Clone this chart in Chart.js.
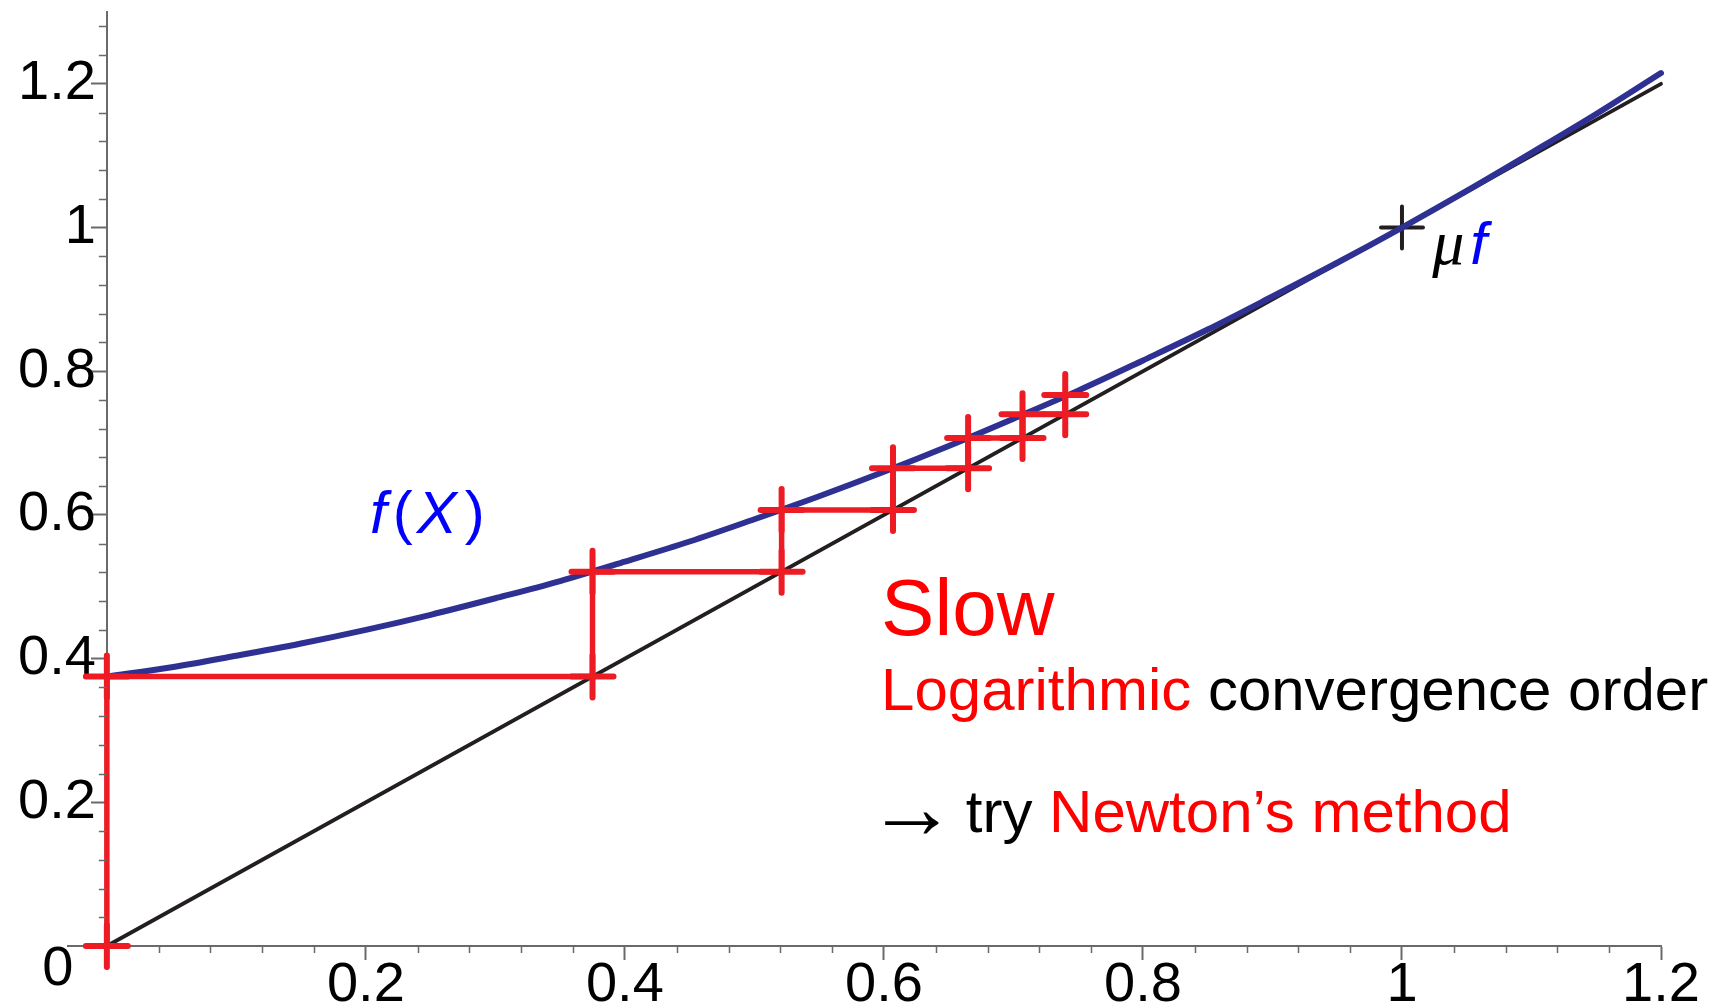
<!DOCTYPE html>
<html>
<head>
<meta charset="utf-8">
<title>Fixed-point iteration f(X)</title>
<script src="https://cdn.jsdelivr.net/npm/chart.js@4.4.1/dist/chart.umd.min.js"></script>
<style>
  html, body { margin: 0; padding: 0; background: #fff; }
  #wrap { width: 1727px; height: 1003px; position: relative; }
</style>
</head>
<body>
<div id="wrap"><canvas id="cobweb"></canvas></div>
<script>
// f(X)
const curveX = [0, 0.05, 0.1, 0.15, 0.2, 0.25, 0.3, 0.35, 0.4, 0.45, 0.5, 0.55, 0.6,
                0.65, 0.7, 0.75, 0.8, 0.85, 0.9, 0.95, 1, 1.05, 1.1, 1.15, 1.2];
const curveY = [0.375, 0.388, 0.404, 0.421, 0.440, 0.461, 0.484, 0.508, 0.535, 0.563, 0.594, 0.626, 0.660,
                0.696, 0.734, 0.773, 0.815, 0.858, 0.904, 0.951, 1.000, 1.051, 1.104, 1.158, 1.215];

// iterates X0, X1 = f(X0), X2 = f(X1), ...
const iterates = [0, 0.375, 0.521, 0.607, 0.665, 0.707, 0.740, 0.767];

// diagonal y = x
const diagonalX = [0, 1.2];

// fixed point
const fixedX = [1];
const fixedY = [1];

const xTickValues = [0.2, 0.4, 0.6, 0.8, 1, 1.2];
const xTickLabels = ['0.2', '0.4', '0.6', '0.8', '1', '1.2'];
const yTickValues = [0.2, 0.4, 0.6, 0.8, 1, 1.2];
const yTickLabels = ['0.2', '0.4', '0.6', '0.8', '1', '1.2'];
const originLabel = '0';
const MINOR_STEP = 0.04;

const SANS = '"Liberation Sans", Arial, Helvetica, sans-serif';
const SERIF = '"Liberation Serif", "Times New Roman", serif';
const RED = '#ed1c24';
const NAVY = '#2e3192';
const INK = '#231f20';
const AXIS = '#6a6a6a';
const TXT_RED = '#ff0000';
const TXT_BLUE = '#0000ff';

// staircase: (x0,x0) -> (x0,x1) -> (x1,x1) -> (x1,x2) ... ending on the curve
const cobweb = [];
for (let i = 0; i + 1 < iterates.length; i++) {
  cobweb.push({ x: iterates[i], y: iterates[i] });
  cobweb.push({ x: iterates[i], y: iterates[i + 1] });
}

// draws a list of text runs left to right on one baseline
function drawRuns(ctx, x, y, runs) {
  runs.forEach(r => {
    x += r.gap || 0;
    ctx.font = r.font;
    ctx.fillStyle = r.color;
    ctx.fillText(r.text, x, y + (r.dy || 0));
    x += ctx.measureText(r.text).width;
  });
}

const roundCaps = {
  id: 'roundCaps',
  beforeDatasetsDraw(chart) { chart.ctx.save(); chart.ctx.lineCap = 'round'; },
  afterDatasetsDraw(chart) { chart.ctx.restore(); }
};

// y labels of an axis placed at x = 0 sit right on the line; move them left of the ticks
const yLabelGap = {
  id: 'yLabelGap',
  beforeDraw(chart) {
    const items = chart.scales.y.getLabelItems();
    items.forEach(it => {
      if (it._moved) return;
      it.options.translation[0] -= 11;
      it._moved = true;
    });
  }
};

const decorations = {
  id: 'decorations',
  afterDraw(chart) {
    const { ctx, scales: { x, y } } = chart;
    const x0 = x.getPixelForValue(0);
    const y0 = y.getPixelForValue(0);
    ctx.save();

    // minor ticks
    ctx.strokeStyle = AXIS;
    ctx.lineWidth = 1.5;
    ctx.beginPath();
    for (let k = 1; k * MINOR_STEP < x.max + 1e-9; k++) {
      if (k % 5 === 0) continue;
      const px = Math.round(x.getPixelForValue(k * MINOR_STEP)) + 0.5;
      ctx.moveTo(px, y0); ctx.lineTo(px, y0 + 7);
    }
    for (let k = 1; k * MINOR_STEP < y.max; k++) {
      if (k % 5 === 0) continue;
      const py = Math.round(y.getPixelForValue(k * MINOR_STEP)) + 0.5;
      ctx.moveTo(x0, py); ctx.lineTo(x0 - 8, py);
    }
    ctx.stroke();

    // origin label
    ctx.font = '56px ' + SANS;
    ctx.fillStyle = '#000';
    ctx.textAlign = 'center';
    ctx.textBaseline = 'alphabetic';
    ctx.fillText(originLabel, x0 - 49, y0 + 39);
    ctx.textAlign = 'left';

    // curve name
    const italic = 'italic 60px ' + SANS;
    const upright = '60px ' + SANS;
    drawRuns(ctx, x.getPixelForValue(0.2032), y.getPixelForValue(0.5745), [
      { text: 'f', font: italic, color: TXT_BLUE },
      { text: '(', font: upright, color: TXT_BLUE, gap: 6 },
      { text: 'X', font: italic, color: TXT_BLUE, gap: 4 },
      { text: ')', font: upright, color: TXT_BLUE, gap: 8 }
    ]);

    // fixed point name
    drawRuns(ctx, x.getPixelForValue(1.0233), y.getPixelForValue(0.9496), [
      { text: 'μ', font: 'italic 64px ' + SERIF, color: '#000' },
      { text: 'f', font: italic, color: TXT_BLUE, gap: 6 }
    ]);

    // notes
    const nx = x.getPixelForValue(0.5978);
    drawRuns(ctx, nx, y.getPixelForValue(0.4328), [
      { text: 'Slow', font: '80px ' + SANS, color: TXT_RED }
    ]);
    drawRuns(ctx, nx, y.getPixelForValue(0.3283), [
      { text: 'Logarithmic', font: upright, color: TXT_RED },
      { text: ' convergence order', font: upright, color: '#000' }
    ]);
    drawRuns(ctx, nx, y.getPixelForValue(0.1588), [
      { text: '→', font: '90px ' + SERIF, color: '#000', dy: 6, gap: -14 },
      { text: ' try ', font: upright, color: '#000', gap: -8 },
      { text: 'Newton’s method', font: upright, color: TXT_RED }
    ]);

    ctx.restore();
  }
};

const tickFont = { family: SANS, size: 56, lineHeight: 1.2 };

new Chart(document.getElementById('cobweb'), {
  type: 'scatter',
  data: {
    datasets: [
      {
        label: 'iterates',
        data: cobweb,
        showLine: true,
        borderColor: RED,
        borderWidth: 5.5,
        borderCapStyle: 'round',
        borderJoinStyle: 'round',
        pointStyle: 'cross',
        pointRadius: 21,
        pointBorderWidth: 6,
        pointBorderColor: RED,
        pointBackgroundColor: RED,
        clip: false,
        order: 0
      },
      {
        label: 'f(X)',
        data: curveX.map((v, i) => ({ x: v, y: curveY[i] })),
        showLine: true,
        borderColor: NAVY,
        borderWidth: 6,
        borderCapStyle: 'round',
        cubicInterpolationMode: 'monotone',
        pointRadius: 0,
        clip: false,
        order: 1
      },
      {
        label: 'fixed point',
        data: fixedX.map((v, i) => ({ x: v, y: fixedY[i] })),
        pointStyle: 'cross',
        pointRadius: 21,
        pointBorderWidth: 4,
        pointBorderColor: INK,
        clip: false,
        order: 2
      },
      {
        label: 'y = x',
        data: diagonalX.map(v => ({ x: v, y: v })),
        showLine: true,
        borderColor: INK,
        borderWidth: 3.8,
        borderCapStyle: 'round',
        pointRadius: 0,
        clip: false,
        order: 3
      }
    ]
  },
  options: {
    responsive: true,
    maintainAspectRatio: false,
    devicePixelRatio: 1,
    animation: false,
    events: [],
    layout: { autoPadding: false, padding: { left: 68, right: 66, top: 12, bottom: 34 } },
    plugins: { legend: { display: false }, tooltip: { enabled: false } },
    scales: {
      x: {
        type: 'linear',
        min: -0.03,
        max: 1.2,
        position: { y: 0 },
        afterBuildTicks: s => { s.ticks = xTickValues.map(v => ({ value: v })); },
        afterFit: s => { s.paddingLeft = 0; s.paddingRight = 0; },
        border: { color: AXIS, width: 2 },
        grid: { drawOnChartArea: false, drawTicks: true, tickLength: 13, tickColor: AXIS, tickWidth: 2 },
        ticks: {
          autoSkip: false, maxRotation: 0, padding: -7,
          color: '#000', font: tickFont,
          callback: (v, i) => xTickLabels[i]
        }
      },
      y: {
        type: 'linear',
        min: -0.032,
        max: 1.3,
        position: { x: 0 },
        z: 1,
        afterBuildTicks: s => { s.ticks = yTickValues.map(v => ({ value: v })); },
        afterFit: s => { s.paddingTop = 0; s.paddingBottom = 0; },
        border: { color: AXIS, width: 2 },
        grid: { drawOnChartArea: false, drawTicks: true, tickLength: 15, tickColor: AXIS, tickWidth: 2 },
        ticks: {
          autoSkip: false, padding: 0,
          color: '#000', font: tickFont,
          callback: (v, i) => yTickLabels[i]
        }
      }
    }
  },
  plugins: [roundCaps, yLabelGap, decorations]
});
</script>
</body>
</html>
